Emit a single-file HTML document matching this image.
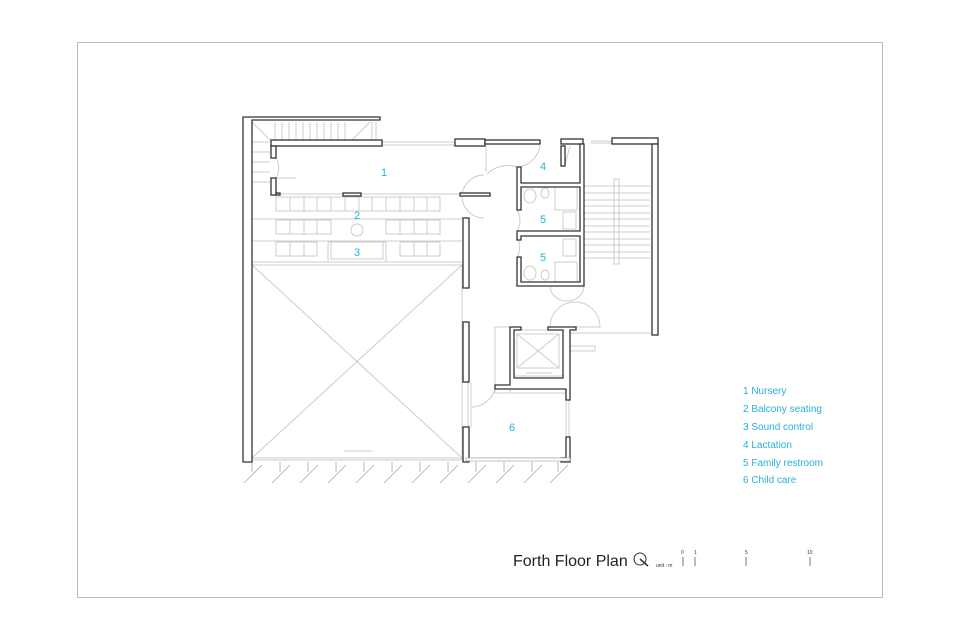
<!DOCTYPE html>
<html><head><meta charset="utf-8"><style>
html,body{margin:0;padding:0;background:#fff;}
svg{display:block}
text{font-family:"Liberation Sans",sans-serif;}
</style></head><body>
<svg width="960" height="639" viewBox="0 0 960 639" xmlns="http://www.w3.org/2000/svg">
<rect x="77.5" y="42.5" width="805" height="555" fill="none" stroke="#bbb" stroke-width="1"/>

<g stroke="#ccc" stroke-width="1" fill="none">
  <rect x="252" y="265" width="210" height="195"/>
  <line x1="252" y1="265" x2="462" y2="458"/>
  <line x1="462" y1="265" x2="252" y2="458"/>
  <line x1="252" y1="458" x2="570" y2="458"/>
  <line x1="344" y1="451" x2="372" y2="451"/>
  <g>
    <line x1="275" y1="122" x2="275" y2="140"/><line x1="282" y1="122" x2="282" y2="140"/>
    <line x1="289" y1="122" x2="289" y2="140"/><line x1="296" y1="122" x2="296" y2="140"/>
    <line x1="303" y1="122" x2="303" y2="140"/><line x1="310" y1="122" x2="310" y2="140"/>
    <line x1="317" y1="122" x2="317" y2="140"/><line x1="324" y1="122" x2="324" y2="140"/>
    <line x1="331" y1="122" x2="331" y2="140"/><line x1="338" y1="122" x2="338" y2="140"/>
    <line x1="345" y1="122" x2="345" y2="140"/>
    <line x1="252" y1="122" x2="270" y2="140"/><line x1="370" y1="122" x2="352" y2="140"/>
    <line x1="372" y1="122" x2="372" y2="140"/><line x1="376" y1="122" x2="376" y2="140"/>
    <line x1="252" y1="142" x2="270" y2="142"/><line x1="252" y1="152" x2="270" y2="152"/>
    <line x1="252" y1="162" x2="270" y2="162"/><line x1="252" y1="172" x2="270" y2="172"/>
    <line x1="252" y1="182" x2="270" y2="182"/>
  </g>
  <line x1="382" y1="142" x2="455" y2="142"/><line x1="382" y1="145" x2="455" y2="145"/>
  <line x1="277" y1="194" x2="460" y2="194"/>
  <g>
    <rect x="276" y="197" width="14" height="14"/><rect x="290" y="197" width="14" height="14"/><rect x="304" y="197" width="13" height="14"/><rect x="317" y="197" width="14" height="14"/><rect x="331" y="197" width="14" height="14"/><rect x="345" y="197" width="14" height="14"/><rect x="359" y="197" width="13" height="14"/><rect x="372" y="197" width="14" height="14"/><rect x="386" y="197" width="14" height="14"/><rect x="400" y="197" width="14" height="14"/><rect x="414" y="197" width="13" height="14"/><rect x="427" y="197" width="13" height="14"/>
    <line x1="252" y1="219" x2="462" y2="219"/>
    <rect x="276" y="220" width="14" height="14"/><rect x="290" y="220" width="14" height="14"/><rect x="304" y="220" width="13" height="14"/><rect x="317" y="220" width="14" height="14"/>
    <rect x="386" y="220" width="14" height="14"/><rect x="400" y="220" width="14" height="14"/><rect x="414" y="220" width="13" height="14"/><rect x="427" y="220" width="13" height="14"/>
    <circle cx="357" cy="230" r="6"/>
    <line x1="252" y1="241" x2="462" y2="241"/>
    <rect x="276" y="242" width="14" height="14"/><rect x="290" y="242" width="14" height="14"/><rect x="304" y="242" width="13" height="14"/>
    <rect x="400" y="242" width="14" height="14"/><rect x="414" y="242" width="13" height="14"/><rect x="427" y="242" width="13" height="14"/>
    <rect x="328" y="242" width="58" height="20"/><rect x="331" y="242" width="52" height="17"/>
    <line x1="252" y1="262" x2="462" y2="262"/>
  </g>
  <path d="M276 158 A20 20 0 0 1 276 178" /><path d="M276 178 L296 178"/>
  <path d="M462 196 A22 22 0 0 0 484 218"/><path d="M484 175 A22 22 0 0 0 462 197"/>
  <path d="M486 146 L486 172"/>
  <path d="M517 167 A30 30 0 0 0 487 174"/>
  <path d="M517 167 A25 25 0 0 0 540 146"/>
  <path d="M517 210 A22 22 0 0 1 517 232"/>
  <path d="M517 258 A22 22 0 0 0 517 237"/>
  <path d="M550 286 A17 15 0 0 0 584 286"/>
  <path d="M550 327 A25 25 0 0 1 600 327 Z"/>
  <path d="M468 382 L468 427"/><path d="M471 383 L471 427"/>
  <path d="M472 407 A24 24 0 0 0 495 388"/>
  <path d="M566 400 L566 437"/><path d="M569 400 L569 437"/>
  <rect x="513" y="330" width="50" height="46"/><rect x="517" y="334" width="42" height="34"/>
  <line x1="517" y1="334" x2="559" y2="368"/><line x1="559" y1="334" x2="517" y2="368"/>
  <line x1="526" y1="373" x2="552" y2="373"/>
  <line x1="495" y1="393" x2="566" y2="393"/>
  <rect x="495" y="327" width="15" height="66"/>
  <rect x="570" y="346" width="25" height="5"/>
  <line x1="570" y1="333" x2="651" y2="333"/>
  <g>
    <line x1="583" y1="186" x2="650" y2="186"/><line x1="583" y1="193" x2="650" y2="193"/><line x1="583" y1="200" x2="650" y2="200"/><line x1="583" y1="206" x2="650" y2="206"/><line x1="583" y1="213" x2="650" y2="213"/><line x1="583" y1="219" x2="650" y2="219"/><line x1="583" y1="226" x2="650" y2="226"/><line x1="583" y1="232" x2="650" y2="232"/><line x1="583" y1="239" x2="650" y2="239"/><line x1="583" y1="245" x2="650" y2="245"/><line x1="583" y1="252" x2="650" y2="252"/><line x1="583" y1="258" x2="650" y2="258"/>
    <rect x="614" y="179" width="5" height="85"/>
  </g>
  <line x1="591" y1="141" x2="612" y2="141"/><line x1="591" y1="143" x2="612" y2="143"/>
  <rect x="555" y="186" width="22" height="24"/><rect x="563" y="212" width="13" height="17"/>
  <rect x="555" y="262" width="22" height="20"/><rect x="563" y="239" width="13" height="17"/>
  <ellipse cx="530" cy="196" rx="6" ry="7"/><ellipse cx="545" cy="193" rx="4" ry="5"/>
  <ellipse cx="530" cy="273" rx="6" ry="7"/><ellipse cx="545" cy="275" rx="4" ry="5"/>
  <line x1="565" y1="146" x2="565" y2="165"/><line x1="570" y1="146" x2="565" y2="165"/>
</g>

<g stroke="#aaa" stroke-width="0.8">
  <line x1="252" y1="462" x2="252" y2="472"/><line x1="262" y1="465" x2="244" y2="483"/>
  <line x1="280" y1="462" x2="280" y2="472"/><line x1="290" y1="465" x2="272" y2="483"/>
  <line x1="308" y1="462" x2="308" y2="472"/><line x1="318" y1="465" x2="300" y2="483"/>
  <line x1="336" y1="462" x2="336" y2="472"/><line x1="346" y1="465" x2="328" y2="483"/>
  <line x1="364" y1="462" x2="364" y2="472"/><line x1="374" y1="465" x2="356" y2="483"/>
  <line x1="392" y1="462" x2="392" y2="472"/><line x1="402" y1="465" x2="384" y2="483"/>
  <line x1="420" y1="462" x2="420" y2="472"/><line x1="430" y1="465" x2="412" y2="483"/>
  <line x1="448" y1="462" x2="448" y2="472"/><line x1="458" y1="465" x2="440" y2="483"/>
  <line x1="476" y1="462" x2="476" y2="472"/><line x1="486" y1="465" x2="468" y2="483"/>
  <line x1="504" y1="462" x2="504" y2="472"/><line x1="514" y1="465" x2="496" y2="483"/>
  <line x1="532" y1="462" x2="532" y2="472"/><line x1="542" y1="465" x2="524" y2="483"/>
  <line x1="558" y1="462" x2="558" y2="472"/><line x1="568" y1="465" x2="550" y2="483"/>
</g>

<g fill="#fff" stroke="#333" stroke-width="1.3">
  <path d="M243 117 L380 117 L380 120 L252 120 L252 462 L243 462 Z"/>
  <rect x="271" y="140" width="111" height="6"/>
  <rect x="271" y="146" width="5" height="12"/>
  <rect x="271" y="178" width="5" height="17"/>
  <rect x="276" y="193" width="4" height="2"/>
  <rect x="343" y="193" width="18" height="3"/>
  <rect x="460" y="193" width="30" height="3"/>
  <rect x="455" y="139" width="30" height="7"/>
  <rect x="485" y="140" width="55" height="4"/>
  <rect x="561" y="139" width="22" height="5"/>
  <rect x="612" y="138" width="46" height="6"/>
  <rect x="652" y="144" width="6" height="191"/>
  <rect x="463" y="218" width="6" height="70"/>
  <rect x="463" y="322" width="6" height="60"/>
  <rect x="463" y="427" width="6" height="35"/>
  <path d="M517 167 L521 167 L521 183 L580 183 L580 144 L584 144 L584 286 L517 286 L517 257 L521 257 L521 282 L580 282 L580 236 L521 236 L521 240 L517 240 L517 231 L580 231 L580 187 L521 187 L521 210 L517 210 Z"/>
  <rect x="561" y="146" width="4" height="20"/>
  <path d="M510 327 L521 327 L521 330 L514 330 L514 378 L563 378 L563 330 L548 330 L548 327 L576 327 L576 330 L570 330 L570 400 L566 400 L566 389 L495 389 L495 385 L510 385 Z"/>
  <path d="M566 437 L570 437 L570 462 L561 462 L561 458 L566 458 Z"/>
  <rect x="466" y="458" width="104" height="3" stroke-width="0.6" stroke="#999"/>
</g>

<g fill="#29b0d8" font-size="11">
  <text x="381" y="176">1</text>
  <text x="354" y="219">2</text>
  <text x="354" y="256">3</text>
  <text x="540" y="170">4</text>
  <text x="540" y="223">5</text>
  <text x="540" y="261">5</text>
  <text x="509" y="431">6</text>
</g>
<g fill="#29b0d8" font-size="10">
  <text x="743" y="394">1  Nursery</text>
  <text x="743" y="412">2  Balcony seating</text>
  <text x="743" y="430">3  Sound control</text>
  <text x="743" y="448">4  Lactation</text>
  <text x="743" y="466">5  Family restroom</text>
  <text x="743" y="483">6  Child care</text>
</g>

<text x="513" y="566" font-size="16" fill="#222">Forth Floor Plan</text>
<circle cx="640" cy="559" r="6" fill="none" stroke="#333" stroke-width="1"/>
<line x1="640" y1="559" x2="648" y2="566" stroke="#333" stroke-width="1.5"/>
<text x="656" y="567" font-size="5" fill="#333">unit : m</text>
<g stroke="#555" stroke-width="0.8">
  <line x1="683" y1="557" x2="683" y2="566"/><line x1="695" y1="557" x2="695" y2="566"/>
  <line x1="746" y1="557" x2="746" y2="566"/><line x1="810" y1="557" x2="810" y2="566"/>
</g>
<g font-size="5" fill="#333">
  <text x="681" y="554">0</text><text x="694" y="554">1</text><text x="745" y="554">5</text><text x="807" y="554">10</text>
</g>
</svg>
</body></html>
